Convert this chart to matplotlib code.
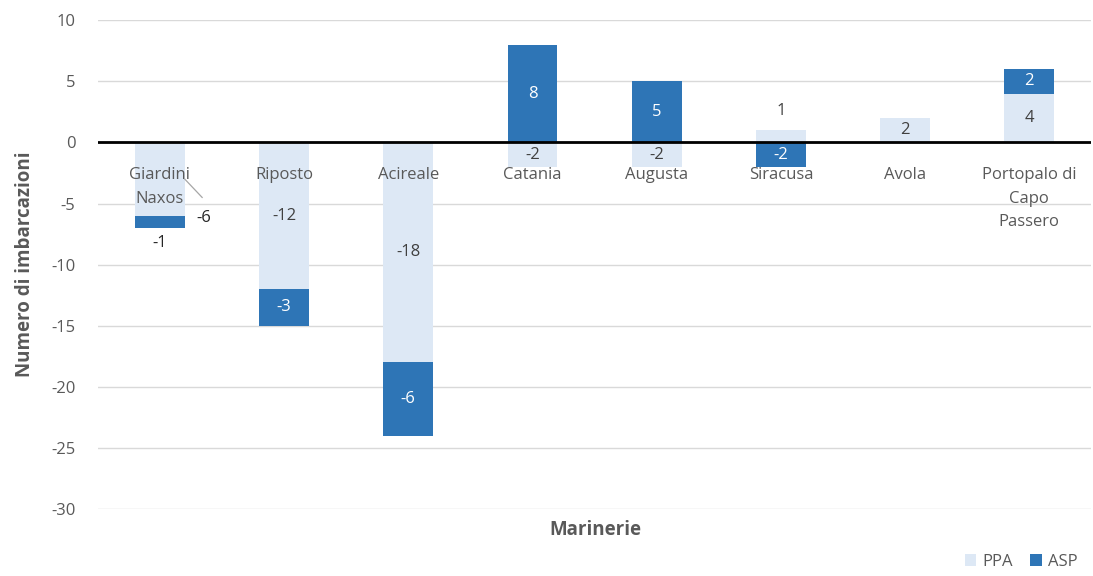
import matplotlib
matplotlib.use("Agg")
import matplotlib.pyplot as plt
import numpy as np

# dati
marinerie = ["Giardini\nNaxos", "Riposto", "Acireale", "Catania", "Augusta",
             "Siracusa", "Avola", "Portopalo di\nCapo\nPassero"]
ppa = [-6, -12, -18, -2, -2, 1, 2, 4]
asp = [-1, -3, -6, 8, 5, -2, 0, 2]

c_ppa = "#DDE8F5"
c_asp = "#2E75B6"
c_txt = "#595959"

plt.rcParams["font.family"] = ["Open Sans", "DejaVu Sans"]
plt.rcParams["font.size"] = 12
plt.rcParams["axes.unicode_minus"] = False

fig = plt.figure(figsize=(10.93, 5.76), dpi=100)
ax = fig.add_axes([0.0895, 0.116, 0.909, 0.849])

x = np.arange(len(marinerie))
ppa = np.array(ppa)
asp = np.array(asp)
# ASP impilato su PPA se stesso segno, altrimenti parte da zero
base = np.where(np.sign(asp) == np.sign(ppa), ppa, 0)
ax.bar(x, ppa, width=0.4, color=c_ppa, label="PPA", zorder=2)
ax.bar(x, asp, width=0.4, bottom=base, color=c_asp, label="ASP", zorder=2)

ax.set_xlim(-0.5, len(marinerie) - 0.5)
ax.set_ylim(-30, 10)
ax.set_yticks(range(-30, 11, 5))
ax.set_xticks([])
ax.grid(axis="y", color="#D9D9D9", linewidth=1, zorder=0)
ax.axhline(0, color="black", linewidth=2, zorder=3)
for s in ax.spines.values():
    s.set_visible(False)
ax.tick_params(axis="y", length=0, colors=c_txt, labelsize=12, pad=16)

# etichette categorie sotto lo zero
for i, name in enumerate(marinerie):
    ax.text(i, -2.0, name, ha="center", va="top", color=c_txt,
            fontsize=12, linespacing=1.65, zorder=4)

# etichette dati
for i in range(len(marinerie)):
    p, a, b = ppa[i], asp[i], base[i]
    if i == 0:
        # etichetta PPA spostata fuori, con linea di richiamo
        ax.plot([0.2, 0.34], [-3.0, -4.5], color="#A6A6A6", lw=0.9, zorder=4)
        ax.text(0.355, -6.2, str(p), ha="center", va="center",
                color="#262626", fontsize=12, zorder=4)
        ax.text(i, b + a - 1.2, str(a), ha="center", va="center",
                color="#262626", fontsize=12, zorder=4)
        continue
    if p != 0:
        if abs(p) < 2:
            ax.text(i, p + 1.6 * np.sign(p), str(p), ha="center", va="center",
                    color="#404040", fontsize=12, zorder=4)
        else:
            ax.text(i, p / 2, str(p), ha="center", va="center",
                    color="#404040", fontsize=12, zorder=4)
    if a != 0:
        ax.text(i, b + a / 2, str(a), ha="center", va="center",
                color="white", fontsize=12, zorder=4)

ax.set_ylabel("Numero di imbarcazioni", fontsize=13.5, fontweight="bold",
              color=c_txt, labelpad=12)
fig.text(0.545, 0.08, "Marinerie", ha="center", va="center",
         fontsize=13.5, fontweight="bold", color=c_txt)

leg = fig.legend(loc="center right", bbox_to_anchor=(1.0, 0.025), ncol=2,
                 frameon=False, handlelength=0.7, handleheight=0.7,
                 handletextpad=0.4, columnspacing=1.0, fontsize=12)
for t in leg.get_texts():
    t.set_color(c_txt)

plt.savefig("out.png", dpi=100)
